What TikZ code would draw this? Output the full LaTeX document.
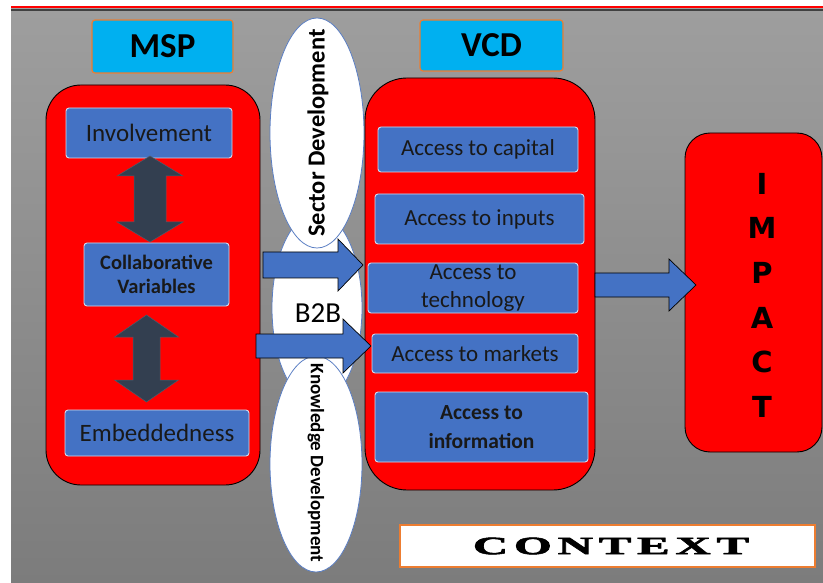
\documentclass[tikz,border=0pt]{standalone}
\usepackage{fontspec}
\setmainfont{Carlito}
\newfontfamily\impactfont{DejaVu Sans}
\newfontfamily\contextfont{Liberation Serif}[LetterSpace=12, BoldFeatures={FakeBold=2}]
\usetikzlibrary{shapes.geometric,calc}

\definecolor{bgtop}{HTML}{9E9E9E}
\definecolor{bgbot}{HTML}{7C7C7C}
\definecolor{boxred}{HTML}{FF0000}
\definecolor{boxblue}{HTML}{4472C4}
\definecolor{titlecyan}{HTML}{00B0F0}
\definecolor{titleorange}{HTML}{ED7D31}
\definecolor{slate}{HTML}{333F50}
\definecolor{ovalline}{HTML}{5B7FC4}

% horizontal block arrow: start, tip, shaft half width, head half width, head length
\newcommand{\rarrow}[5]{%
  \filldraw[blockarrow] let \p1=(#1), \p2=(#2) in
    (\x1,\y1+#3) -- (\x2-#5,\y1+#3) -- (\x2-#5,\y1+#4) -- (\x2,\y1)
    -- (\x2-#5,\y1-#4) -- (\x2-#5,\y1-#3) -- (\x1,\y1-#3) -- cycle;}
% vertical double block arrow: top tip, bottom tip, shaft half width, head half width, head length
\newcommand{\vdarrow}[5]{%
  \filldraw[linkarrow] let \p1=(#1), \p2=(#2) in
    (\x1,\y1) -- (\x1+#4,\y1-#5) -- (\x1+#3,\y1-#5) -- (\x1+#3,\y2+#5)
    -- (\x1+#4,\y2+#5) -- (\x1,\y2) -- (\x1-#4,\y2+#5) -- (\x1-#3,\y2+#5)
    -- (\x1-#3,\y1-#5) -- (\x1-#4,\y1-#5) -- cycle;}

\tikzset{
  panel/.style={draw=black, line width=0.9pt, fill=boxred, rounded corners=#1},
  panel/.default=35pt,
  item/.style={draw=white!75!boxblue, line width=0.9pt, fill=boxblue,
    rounded corners=3pt, text=black!90, align=center, inner sep=0pt},
  title/.style={fill=titlecyan, draw=titleorange, line width=1.2pt,
    rounded corners=3pt, font=\bfseries\fontsize{35}{40}\selectfont},
  oval/.style={ellipse, draw=ovalline, fill=white, line width=0.8pt, inner sep=0pt},
  blockarrow/.style={fill=boxblue, draw=black, line width=0.7pt},
  linkarrow/.style={fill=slate, draw=slate!85!white, line width=0.5pt},
  regular/.style={font=\fontsize{#1}{#1}\selectfont},
}

\begin{document}
\begin{tikzpicture}[x=1pt,y=-1pt]
\useasboundingbox (0,0) rectangle (823,583);
\fill[white] (0,0) rectangle (823,583);
\shade[top color=bgtop, bottom color=bgbot] (11,9) rectangle (823,583);
\draw[red, line width=2.5pt] (11,7) -- (823,7);
\draw[black!75, line width=2pt] (11,10) -- (823,10);

% development ovals
\node[oval, minimum width=90, minimum height=190] (b2b) at (317,308) {};
\node[oval, minimum width=94, minimum height=230] (sector) at (317,133) {};
\node[oval, minimum width=92, minimum height=216] (knowledge) at (316,464) {};
\node[rotate=90, font=\bfseries\fontsize{24.5}{24.5}\selectfont] (sectorlabel) at (318,133) {Sector Development};
\node[rotate=-90, font=\bfseries\fontsize{19}{19}\selectfont] (knowledgelabel) at (316,463) {Knowledge Development};

% main panels
\node[panel=35pt, minimum width=214, minimum height=400] (msp) at (153,285) {};
\node[panel=42pt, minimum width=230, minimum height=412] (vcd) at (480,284) {};
\node[panel=25pt, minimum width=137, minimum height=319] (impact) at (753.5,292.5) {};

% headings
\node[title, minimum width=141, minimum height=53] (msptitle) at (162.5,46.5) {MSP};
\node[title, minimum width=143, minimum height=51] (vcdtitle) at (491.5,45.5) {VCD};

% arrows from MSP to VCD and VCD to impact
\coordinate (a1s) at (263,265);
\coordinate (a1e) at (363,265);
\coordinate (a2s) at (256,346);
\coordinate (a2e) at (371,346);
\coordinate (a3s) at (595,285);
\coordinate (a3e) at (696,285);
\rarrow{a1s}{a1e}{13pt}{26pt}{25pt}
\rarrow{a2s}{a2e}{12pt}{27pt}{28pt}
\rarrow{a3s}{a3e}{12pt}{26pt}{27pt}

\node[regular=29] (b2blabel) at (318,313) {B2B};

% MSP variables
\node[item, minimum width=166, minimum height=50, regular=25] (inv) at (149,133) {Involvement};
\node[item, minimum width=145, minimum height=63, font=\bfseries\fontsize{20.5}{24}\selectfont] (collab) at (156.5,274.5) {Collaborative\\Variables};
\node[item, minimum width=184, minimum height=46, regular=25] (embed) at (157,433) {Embeddedness};

\coordinate (d1t) at (150,156);
\coordinate (d1b) at (150,242);
\coordinate (d2t) at (146.5,315);
\coordinate (d2b) at (146.5,402);
\vdarrow{d1t}{d1b}{16pt}{33pt}{20pt}
\vdarrow{d2t}{d2b}{13.5pt}{32pt}{22pt}

% VCD access items
\node[item, minimum width=200, minimum height=45, regular=23] (capital) at (478,149.5) {Access to capital};
\node[item, minimum width=209, minimum height=50, regular=23] (inputs) at (479.5,219) {Access to inputs};
\node[item, minimum width=210, minimum height=50, font=\fontsize{23}{28}\selectfont] (technology) at (473,288) {Access to\\technology};
\node[item, minimum width=206, minimum height=39, regular=23] (markets) at (475,353.5) {Access to markets};
\node[item, minimum width=213, minimum height=70, font=\bfseries\fontsize{21.5}{29}\selectfont] (information) at (481.5,427) {Access to\\information};

% impact label
\node[font=\impactfont\bfseries\fontsize{29}{44.6}\selectfont, align=center, anchor=north, inner sep=0pt] (impactlabel) at (762,173) {I\\M\\P\\A\\C\\T};

% context banner
\node[draw=titleorange, fill=white, line width=1.2pt, minimum width=415, minimum height=42] (context) at (607.5,546) {};
\node[xscale=1.95, inner sep=0pt, font=\contextfont\bfseries\fontsize{25}{25}\selectfont] (contextlabel) at (611,546) {CONTEXT};
\end{tikzpicture}
\end{document}
